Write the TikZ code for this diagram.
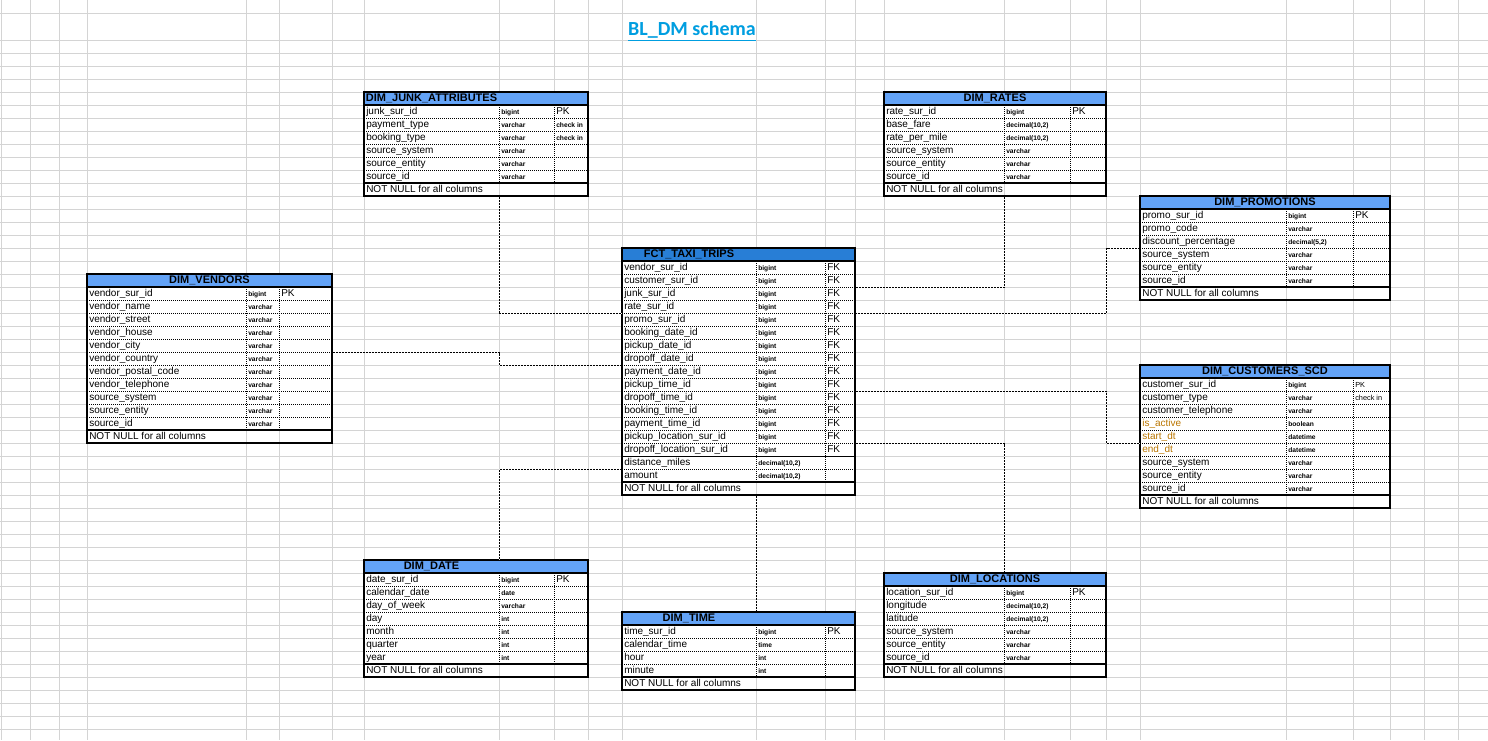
\documentclass[tikz,border=0pt]{standalone}
\usepackage{fontspec}
\setmainfont{Liberation Sans}
\newfontfamily\titlefont{Carlito}
\usepackage{tikz}
\definecolor{gridgray}{RGB}{212,212,212}
\definecolor{dimblue}{RGB}{99,163,247}
\definecolor{factblue}{RGB}{40,126,214}
\definecolor{titleblue}{RGB}{0,158,224}
\definecolor{scdorange}{RGB}{186,118,0}
\tikzstyle{gridline} = [gridgray,line width=0.75pt]
\tikzstyle{hdrfill} = [fill=dimblue]
\tikzstyle{tableedge} = [black,line width=0.8pt]
\tikzstyle{rowsep} = [black,line width=0.6pt,dash pattern=on 0.75pt off 0.75pt]
\tikzstyle{link} = [black,line width=0.7pt,dash pattern=on 1.5pt off 0.75pt,preaction={draw=white,solid}]
\tikzstyle{colname} = [anchor=base west,inner sep=0pt,font=\fontsize{7.5}{9}\selectfont]
\tikzstyle{coltype} = [anchor=base west,inner sep=0pt,font=\fontsize{5}{6}\selectfont\bfseries]
\tikzstyle{tabtitle} = [anchor=base,inner sep=0pt,font=\fontsize{8.25}{10}\selectfont\bfseries]
\tikzstyle{rowbox} = [anchor=north west,inner sep=0pt,minimum height=9.75pt]
\newcommand{\tinykey}{\fontsize{5}{6}\selectfont\bfseries}
\newcommand{\custkey}{\fontsize{5.5}{6}\selectfont}

% #1 name, #2 left, #3 type column, #4 key column, #5 right, #6 top, #7 title x, #8 title, #9 rows
\newcommand{\dbtable}[9]{%
  \foreach \x [count=\c] in {#9} {\xdef\lastrow{\c}}
  \pgfmathsetmacro\ybot{#6+13*(\lastrow+1)}
  \pgfmathsetmacro\yend{\ybot+13}
  \fill[white] (#2,#6) rectangle (#5,\yend);
  \fill[hdrfill] (#2,#6) rectangle (#5,#6+13);
  \node[tabtitle] at (#7,#6+9.6) {#8};
  \coordinate (#1-t) at (#3,#6);
  \coordinate (#1-k) at (#4,#6);
  \foreach \cname/\ctype/\ckey [count=\i] in {#9} {
    \node[rowbox,minimum width={(#5-#2)*0.75pt}] (#1-\i) at (#2,{#6+13*\i}) {};
    \node[colname] at (#2+2,{#6+13*\i+9.6}) {\cname};
    \node[coltype] at (#3+2,{#6+13*\i+9.4}) {\ctype};
    \node[colname] at (#4+2,{#6+13*\i+9.6}) {\ckey};
    \draw[rowsep] (#1-\i.south west) -- (#1-\i.south east);
  }
  \node[rowbox,minimum width={(#5-#2)*0.75pt},minimum height={(\lastrow+2)*9.75pt}] (#1) at (#2,#6) {};
  \node[colname] at (#2+2,\ybot+9.8) {NOT NULL for all columns};
  \draw[rowsep] (#3,#6+13) -- (#3,\ybot);
  \draw[rowsep] (#4,#6+13) -- (#4,\ybot);
  \draw[gridline] (#3,\ybot) -- (#3,\yend);
  \draw[gridline] (#4,\ybot) -- (#4,\yend);
  \draw[tableedge] (#2,#6+13) -- (#5,#6+13);
  \draw[tableedge] (#2,\ybot) -- (#5,\ybot);
  \draw[tableedge] (#2,#6) rectangle (#5,\yend);
}

\begin{document}
\begin{tikzpicture}[x=0.75pt,y=-0.75pt]
  \useasboundingbox (0,0) rectangle (1488,740);
  \fill[white] (0,0) rectangle (1488,740);
  \foreach \gx in {1,30,59,87,246,279,332,364,499,554,588,622,756,825,855,884,1004,1070,1106,1140,1286,1353,1390,1424,1458}
    \draw[gridline] (\gx,0) -- (\gx,740);
  \draw[gridline] (0,13) -- (1488,13);
  \foreach \gy in {40,53,...,740}
    \draw[gridline] (0,\gy) -- (1488,\gy);

  \node[anchor=base,inner sep=0pt,text=titleblue,font=\titlefont\bfseries\fontsize{15}{18}\selectfont] (title) at (692,35.5) {\underline{BL\_DM schema}};

  \dbtable{junk}{364}{499}{554}{588}{92}{431.5}{DIM\_JUNK\_ATTRIBUTES}{
    junk\_sur\_id/bigint/PK, payment\_type/varchar/{\tinykey check in}, booking\_type/varchar/{\tinykey check in},
    source\_system/varchar/{}, source\_entity/varchar/{}, source\_id/varchar/{}}

  \dbtable{rates}{884}{1004}{1070}{1106}{92}{995}{DIM\_RATES}{
    rate\_sur\_id/bigint/PK, base\_fare/{decimal(10,2)}/{}, rate\_per\_mile/{decimal(10,2)}/{},
    source\_system/varchar/{}, source\_entity/varchar/{}, source\_id/varchar/{}}

  \dbtable{promo}{1140}{1286}{1353}{1390}{196}{1265}{DIM\_PROMOTIONS}{
    promo\_sur\_id/bigint/PK, promo\_code/varchar/{}, discount\_percentage/{decimal(5,2)}/{},
    source\_system/varchar/{}, source\_entity/varchar/{}, source\_id/varchar/{}}

  \dbtable{vendors}{87}{246}{279}{332}{274}{209.5}{DIM\_VENDORS}{
    vendor\_sur\_id/bigint/PK, vendor\_name/varchar/{}, vendor\_street/varchar/{}, vendor\_house/varchar/{},
    vendor\_city/varchar/{}, vendor\_country/varchar/{}, vendor\_postal\_code/varchar/{},
    vendor\_telephone/varchar/{}, source\_system/varchar/{}, source\_entity/varchar/{}, source\_id/varchar/{}}

  \begin{scope}[hdrfill/.style={fill=factblue}]
  \dbtable{fct}{622}{756}{825}{855}{248}{689}{FCT\_TAXI\_TRIPS}{
    vendor\_sur\_id/bigint/FK, customer\_sur\_id/bigint/FK, junk\_sur\_id/bigint/FK, rate\_sur\_id/bigint/FK,
    promo\_sur\_id/bigint/FK, booking\_date\_id/bigint/FK, pickup\_date\_id/bigint/FK, dropoff\_date\_id/bigint/FK,
    payment\_date\_id/bigint/FK, pickup\_time\_id/bigint/FK, dropoff\_time\_id/bigint/FK, booking\_time\_id/bigint/FK,
    payment\_time\_id/bigint/FK, pickup\_location\_sur\_id/bigint/FK, dropoff\_location\_sur\_id/bigint/FK,
    distance\_miles/{decimal(10,2)}/{}, amount/{decimal(10,2)}/{}}
  \end{scope}
  \draw[tableedge] (fct-15.south west) -- (fct-15.south east);

  \dbtable{cust}{1140}{1286}{1353}{1390}{365}{1265}{DIM\_CUSTOMERS\_SCD}{
    customer\_sur\_id/bigint/{\custkey PK}, customer\_type/varchar/{\custkey check in},
    customer\_telephone/varchar/{}, {\color{scdorange}is\_active}/boolean/{},
    {\color{scdorange}start\_dt}/datetime/{}, {\color{scdorange}end\_dt}/datetime/{},
    source\_system/varchar/{}, source\_entity/varchar/{}, source\_id/varchar/{}}

  \dbtable{date}{364}{499}{554}{588}{560}{431.5}{DIM\_DATE}{
    date\_sur\_id/bigint/PK, calendar\_date/date/{}, day\_of\_week/varchar/{}, day/int/{},
    month/int/{}, quarter/int/{}, year/int/{}}

  \dbtable{time}{622}{756}{825}{855}{612}{689}{DIM\_TIME}{
    time\_sur\_id/bigint/PK, calendar\_time/time/{}, hour/int/{}, minute/int/{}}

  \dbtable{loc}{884}{1004}{1070}{1106}{573}{995}{DIM\_LOCATIONS}{
    location\_sur\_id/bigint/PK, longitude/{decimal(10,2)}/{}, latitude/{decimal(10,2)}/{},
    source\_system/varchar/{}, source\_entity/varchar/{}, source\_id/varchar/{}}

  \draw[link] (junk-t |- junk.south) |- (fct-4.south west);
  \draw[link] (rates-t |- rates.south) |- (fct-2.south east);
  \draw[link] (promo-3.south west) -| (rates.east |- fct-4.south east) -- (fct-4.south east);
  \draw[link] (vendors-5.south east) -| (junk-t |- fct-8.south west) -- (fct-8.south west);
  \draw[link] (fct-10.south east) -| (rates.east |- cust-5.south west) -- (cust-5.south west);
  \draw[link] (fct-14.south east) -| (loc-t);
  \draw[link] (fct-16.south west) -| (date-t);
  \draw[link] (fct-t |- fct.south) -- (time-t);
\end{tikzpicture}
\end{document}
